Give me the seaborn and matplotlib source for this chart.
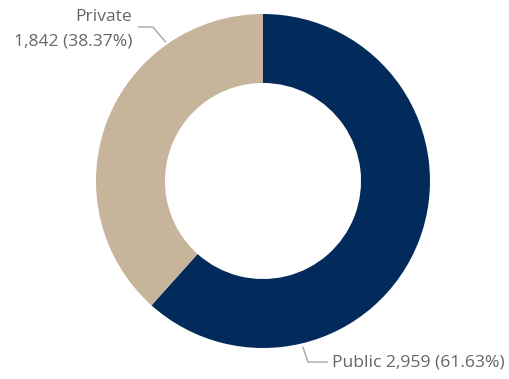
import numpy as np
import matplotlib
matplotlib.use("Agg")
import matplotlib.pyplot as plt
import seaborn as sns

# Enrollment split by school type
categories = ["Public", "Private"]
counts = [2959, 1842]
colors = ["#022B5B", "#C6B49B"]

sns.set_style("white")
plt.rcParams["font.family"] = ["Open Sans", "DejaVu Sans"]

fig = plt.figure(figsize=(5.10, 3.79), dpi=100)
ax = fig.add_axes([0, 0, 1, 1])

total = sum(counts)
pcts = [c / total * 100 for c in counts]

wedges, _ = ax.pie(
    counts,
    colors=colors,
    startangle=90,
    counterclock=False,
    radius=1.0,
    wedgeprops=dict(width=0.413, edgecolor="none"),
)

# pixel-equivalent axes so the ring sits where it should
ax.set_xlim(-263 / 167, (510 - 263) / 167)
ax.set_ylim(-(379 - 181) / 167, 181 / 167)
ax.set_aspect("auto")
ax.axis("off")

text_color = "#666666"
line_color = "#A6A6A6"
fs = 12.6


def polar(angle_deg, r):
    a = np.deg2rad(angle_deg)
    return r * np.cos(a), r * np.sin(a)


# Private label (upper left)
sx, sy = polar(125, 1.015)
ax.plot([sx, -0.659, -0.749], [sy, 0.922, 0.922], color=line_color, lw=1.0,
        solid_capstyle="butt")
ax.text(-0.784, 0.982, categories[1], ha="right", va="center",
        color=text_color, fontsize=fs)
ax.text(-0.784, 0.838, f"{counts[1]:,} ({pcts[1]:.2f}%)", ha="right",
        va="center", color=text_color, fontsize=fs)

# Public label (bottom)
sx, sy = polar(-76.5, 1.02)
ax.plot([sx, 0.269, 0.389], [sy, -1.084, -1.084], color=line_color, lw=1.0,
        solid_capstyle="butt")
ax.text(0.413, -1.084, f"{categories[0]} {counts[0]:,} ({pcts[0]:.2f}%)",
        ha="left", va="center", color=text_color, fontsize=fs)

fig.savefig("out.png", dpi=100)
